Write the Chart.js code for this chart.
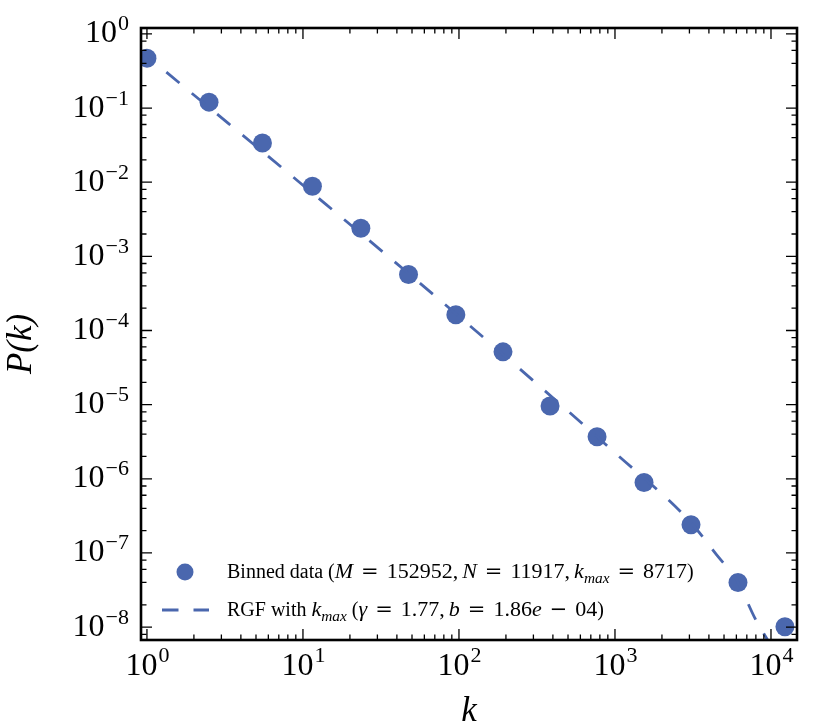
<!DOCTYPE html>
<html>
<head>
<meta charset="utf-8">
<title>P(k)</title>
<script src="https://cdn.jsdelivr.net/npm/chart.js@4.4.1/dist/chart.umd.min.js"></script>
<style>
  html, body { margin: 0; padding: 0; background: #ffffff; }
  #wrap { width: 830px; height: 727px; }
</style>
</head>
<body>
<div id="wrap"><canvas id="chart" width="830" height="727"></canvas></div>
<script>
// binned degree distribution
var binK = [1, 2.5, 5.5, 11.5, 23.5, 47.5, 95.5, 191.5, 383.5, 767.5, 1535.5, 3071.5, 6143.5, 12287.5];
var binP = [0.47, 0.12, 0.0337, 0.0088, 0.00239, 5.7e-4, 1.63e-4, 5.15e-5, 9.6e-6, 3.7e-6, 8.9e-7, 2.4e-7, 4.0e-8, 1.01e-8];

// fitted RGF curve, sampled along the drawn dashed line
var fitK = [0.916, 1, 10, 100, 1000, 3000, 4540, 6030, 7950, 9550];
var fitP = [0.589, 0.504, 0.0091, 1.55e-4, 2.24e-6, 2.7e-7, 9.1e-8, 4.3e-8, 1.28e-8, 6.6e-9];

var xTickExps = [0, 1, 2, 3, 4];
var yTickExps = [0, -1, -2, -3, -4, -5, -6, -7, -8];
var xMinorSubs = [2, 3, 4, 5, 6, 7, 8, 9];
var yMinorSubs = [2, 4, 6, 8];

var xRange = [0.916, 14680];
var yRange = [6.7e-9, 1.2];

var blue = "#4a67ae";
var serif = "'Liberation Serif', 'Times New Roman', 'DejaVu Serif', serif";

function toPoints(xs, ys) {
  return xs.map(function (x, i) { return { x: x, y: ys[i] }; });
}

function minus(n) {
  return n < 0 ? "\u2212" + Math.abs(n) : String(n);
}

// text pieces: t = plain text, m = math upright, i = math italic,
// s = italic subscript, o = relation/operator with math spacing, c = comma
function drawRuns(ctx, runs, x, y) {
  runs.forEach(function (r) {
    var txt = r[0], st = r[1];
    var font = "20px " + serif, dy = 0, padL = 0, padR = 0;
    if (st === "m") font = "22px " + serif;
    if (st === "i") font = "italic 22px " + serif;
    if (st === "s") { font = "italic 15.4px " + serif; dy = 4.5; }
    if (st === "o") { font = "21px 'DejaVu Serif', serif"; padL = 8; padR = 8; dy = -0.5; }
    if (st === "c") { font = "22px " + serif; padR = 4; }
    ctx.font = font;
    x += padL;
    ctx.fillText(txt, x, y + dy);
    x += ctx.measureText(txt).width + padR;
  });
}

var frame = {
  id: "frame",
  afterDraw: function (chart) {
    var ctx = chart.ctx;
    var a = chart.chartArea;
    var xs = chart.scales.x, ys = chart.scales.y;
    ctx.save();
    ctx.strokeStyle = "#000";
    ctx.fillStyle = "#000";

    // tick marks, inward, on all four sides
    ctx.lineWidth = 1.3;
    function tickX(v, len) {
      var px = xs.getPixelForValue(v);
      if (px < a.left + 1 || px > a.right - 1) return;
      ctx.beginPath();
      ctx.moveTo(px, a.bottom); ctx.lineTo(px, a.bottom - len);
      ctx.moveTo(px, a.top); ctx.lineTo(px, a.top + len);
      ctx.stroke();
    }
    function tickY(v, len) {
      var py = ys.getPixelForValue(v);
      if (py < a.top + 1 || py > a.bottom - 1) return;
      ctx.beginPath();
      ctx.moveTo(a.left, py); ctx.lineTo(a.left + len, py);
      ctx.moveTo(a.right, py); ctx.lineTo(a.right - len, py);
      ctx.stroke();
    }
    for (var e = -1; e <= 4; e++) {
      tickX(Math.pow(10, e), 11);
      xMinorSubs.forEach(function (s) { tickX(s * Math.pow(10, e), 5.5); });
    }
    for (var f = -9; f <= 0; f++) {
      tickY(Math.pow(10, f), 11);
      yMinorSubs.forEach(function (s) { tickY(s * Math.pow(10, f), 5.5); });
    }

    // frame
    ctx.lineWidth = 2.6;
    ctx.strokeRect(a.left, a.top, a.right - a.left, a.bottom - a.top);

    // tick labels 10^n
    var baseFont = "32px " + serif, expFont = "22px " + serif;
    ctx.textBaseline = "alphabetic";
    ctx.textAlign = "left";
    xTickExps.forEach(function (n) {
      var px = xs.getPixelForValue(Math.pow(10, n));
      ctx.font = baseFont;
      var wb = ctx.measureText("10").width;
      ctx.font = expFont;
      var we = ctx.measureText(minus(n)).width;
      var x0 = px - (wb + we) / 2;
      ctx.font = baseFont;
      ctx.fillText("10", x0, 675);
      ctx.font = expFont;
      ctx.fillText(minus(n), x0 + wb + 1, 662);
    });
    yTickExps.forEach(function (n) {
      var py = ys.getPixelForValue(Math.pow(10, n));
      ctx.font = baseFont;
      var wb = ctx.measureText("10").width;
      ctx.font = expFont;
      var we = ctx.measureText(minus(n)).width;
      var right = a.left - 12;
      ctx.font = baseFont;
      ctx.fillText("10", right - we - wb - 1, py + 8.5);
      ctx.font = expFont;
      ctx.fillText(minus(n), right - we, py - 3.5);
    });

    // axis titles
    ctx.font = "italic 35px " + serif;
    ctx.textAlign = "center";
    ctx.fillText("k", (a.left + a.right) / 2, 721);
    ctx.save();
    ctx.translate(31, 344);
    ctx.rotate(-Math.PI / 2);
    ctx.fillText("P(k)", 0, 0);
    ctx.restore();

    // legend
    ctx.textAlign = "left";
    ctx.fillStyle = blue;
    ctx.beginPath();
    ctx.arc(185, 572, 8.5, 0, Math.PI * 2);
    ctx.fill();
    ctx.strokeStyle = blue;
    ctx.lineWidth = 2.8;
    ctx.setLineDash([16.5, 15]);
    ctx.beginPath();
    ctx.moveTo(162, 610); ctx.lineTo(209, 610);
    ctx.stroke();
    ctx.setLineDash([]);
    ctx.fillStyle = "#000";
    drawRuns(ctx, [["Binned data (", "t"], ["M", "i"], ["=", "o"], ["152952", "m"], [",", "c"],
      ["N", "i"], ["=", "o"], ["11917", "m"], [",", "c"], ["k", "i"], ["max", "s"],
      ["=", "o"], ["8717", "m"], [")", "t"]], 227, 578);
    drawRuns(ctx, [["RGF with ", "t"], ["k", "i"], ["max", "s"], [" (", "t"], ["\u03b3", "i"],
      ["=", "o"], ["1.77", "m"], [",", "c"], ["b", "i"], ["=", "o"], ["1.86", "m"], ["e", "i"],
      ["\u2212", "o"], ["04", "m"], [")", "t"]], 227, 616);

    ctx.restore();
  }
};

new Chart(document.getElementById("chart"), {
  type: "scatter",
  data: {
    datasets: [
      {
        label: "Binned data",
        data: toPoints(binK, binP),
        backgroundColor: blue,
        borderWidth: 0,
        pointRadius: 9.5,
        order: 1
      },
      {
        label: "RGF with kmax",
        data: toPoints(fitK, fitP),
        showLine: true,
        borderColor: blue,
        borderWidth: 2.8,
        borderDash: [17, 16],
        pointRadius: 0,
        cubicInterpolationMode: "monotone",
        order: 0
      }
    ]
  },
  options: {
    responsive: false,
    animation: false,
    devicePixelRatio: 1,
    layout: { padding: { left: 141, top: 28, right: 33, bottom: 87 } },
    plugins: { legend: { display: false }, tooltip: { enabled: false } },
    scales: {
      x: { type: "logarithmic", min: xRange[0], max: xRange[1], display: false },
      y: { type: "logarithmic", min: yRange[0], max: yRange[1], display: false }
    }
  },
  plugins: [frame]
});
</script>
</body>
</html>
